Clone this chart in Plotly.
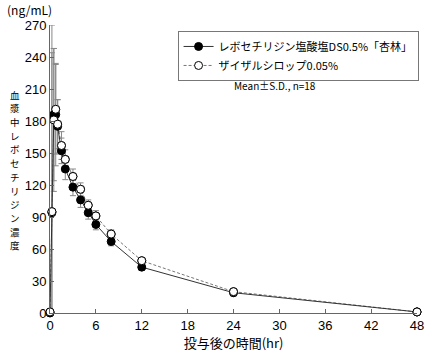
import plotly.graph_objects as go

time_hr = [0, 0.25, 0.5, 0.75, 1, 1.5, 2, 3, 4, 5, 6, 8, 12, 24, 48]

kyorin_mean = [0, 94, 186, 186, 175, 152, 135, 118, 106, 94, 83, 67, 43, 19, 1]
kyorin_sd = [0, 150, 62, 48, 25, 12, 10, 8, 7, 6, 5, 4, 3, 3, 0.5]

xyzal_mean = [1, 95, 181, 191, 177, 157, 144, 128, 116, 101, 91, 74, 49, 20, 1]
xyzal_sd = [0, 175, 67, 42, 23, 13, 9, 7, 6, 5, 5, 4, 3, 2, 0.5]

series_names = ["レボセチリジン塩酸塩DS0.5%「杏林」", "ザイザルシロップ0.05%"]

x_ticks = [0, 6, 12, 18, 24, 30, 36, 42, 48]
y_ticks = [0, 30, 60, 90, 120, 150, 180, 210, 240, 270]

y_title = "血漿中レボセチリジン濃度"
x_title = "投与後の時間(hr)"
unit_label = "(ng/mL)"
note = "Mean±S.D., n=18"

FONT = "Noto Sans CJK JP"
NUM_FONT = "Liberation Sans"


def minus(mean, sd):
    return [min(s, m) for m, s in zip(mean, sd)]


fig = go.Figure()

fig.add_trace(go.Scatter(
    x=time_hr, y=xyzal_mean, name=series_names[1],
    mode="lines+markers",
    line=dict(color="#777777", width=1, dash="3px,2px"),
    marker=dict(symbol="circle", size=8, color="white",
                line=dict(color="black", width=1)),
    error_y=dict(type="data", array=xyzal_sd, arrayminus=minus(xyzal_mean, xyzal_sd),
                 color="#888888", thickness=1, width=3),
    cliponaxis=False,
))

fig.add_trace(go.Scatter(
    x=time_hr, y=kyorin_mean, name=series_names[0],
    mode="lines+markers",
    line=dict(color="#333333", width=1),
    marker=dict(symbol="circle", size=8, color="black",
                line=dict(color="black", width=1)),
    error_y=dict(type="data", array=kyorin_sd, arrayminus=minus(kyorin_mean, kyorin_sd),
                 color="#888888", thickness=1, width=3),
    cliponaxis=False,
))

# re-draw open markers on top so they stay visible over filled ones
fig.add_trace(go.Scatter(
    x=time_hr, y=xyzal_mean, mode="markers", showlegend=False, hoverinfo="skip",
    marker=dict(symbol="circle", size=8, color="white",
                line=dict(color="black", width=1)),
    cliponaxis=False,
))

L, R, T, B = 50, 8, 25, 37
W, H = 432, 352
plot_w = W - L - R
plot_h = H - T - B

fig.update_layout(
    width=W, height=H,
    margin=dict(l=L, r=R, t=T, b=B),
    paper_bgcolor="white", plot_bgcolor="white",
    font=dict(family=FONT, color="black", size=12),
    showlegend=True,
    legend=dict(
        x=(180 - L) / plot_w, y=1 + (T - 31) / plot_h,
        xanchor="left", yanchor="top",
        bordercolor="#777777", borderwidth=1, bgcolor="white",
        font=dict(family=FONT, size=11, color="black"),
        traceorder="reversed",
        itemwidth=30,
        tracegroupgap=0,
    ),
    xaxis=dict(
        range=[0, 48], tickvals=x_ticks, ticktext=[str(v) for v in x_ticks],
        showgrid=False, zeroline=False, showline=True, linecolor="#666666", linewidth=1,
        ticks="inside", ticklen=4, tickcolor="#666666",
        tickfont=dict(family=NUM_FONT, size=13, color="black"),
        ticklabeloverflow="allow",
        title=dict(text=x_title, font=dict(family=FONT, size=13, color="black"), standoff=2),
    ),
    yaxis=dict(
        range=[0, 270], tickvals=y_ticks, ticktext=[str(v) for v in y_ticks],
        showgrid=False, zeroline=False, showline=True, linecolor="#666666", linewidth=1,
        ticks="inside", ticklen=4, tickcolor="#666666",
        tickfont=dict(family=NUM_FONT, size=13, color="black"),
    ),
)

# vertical stacked y-axis title, one character per annotation
center_px, step = 171, 13.8
n = len(y_title)
for i, ch in enumerate(y_title):
    py = center_px + (i - (n - 1) / 2) * step
    fig.add_annotation(
        text=ch, xref="paper", yref="paper",
        x=(14 - L) / plot_w, y=1 - (py - T) / plot_h,
        xanchor="center", yanchor="middle", showarrow=False,
        font=dict(family=FONT, size=9.5, color="black"),
        borderpad=0,
    )

fig.add_annotation(
    text=unit_label, xref="paper", yref="paper",
    x=(4 - L) / plot_w, y=1 - (9 - T) / plot_h,
    xanchor="left", yanchor="middle", showarrow=False,
    font=dict(family=FONT, size=12, color="black"),
)

fig.add_annotation(
    text=note, xref="paper", yref="paper",
    x=(235 - L) / plot_w, y=1 - (86 - T) / plot_h,
    xanchor="left", yanchor="middle", showarrow=False,
    font=dict(family=FONT, size=10, color="black"),
)

fig.write_html("out.html")
